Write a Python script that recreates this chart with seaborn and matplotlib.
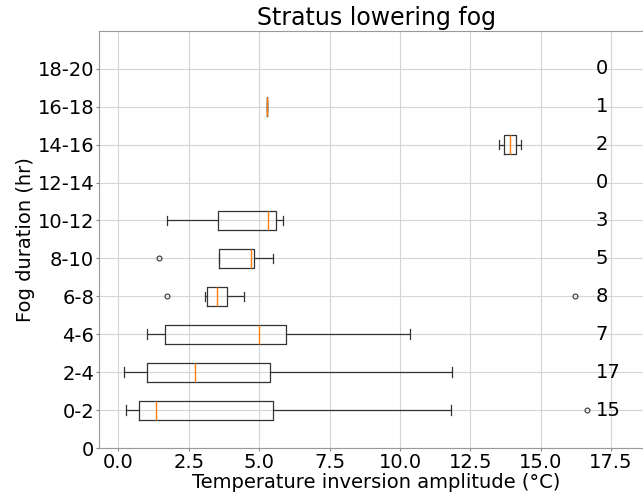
import numpy as np
import pandas as pd
import matplotlib
matplotlib.use("Agg")
import matplotlib.pyplot as plt
import seaborn as sns

# fog duration bins (hr)
bins = ['0-2', '2-4', '4-6', '6-8', '8-10', '10-12', '12-14', '14-16', '16-18', '18-20']

# temperature inversion amplitude (°C) per fog duration bin
amp_0_2 = [0.26, 0.40, 0.55, 0.68, 0.78, 0.95, 1.15, 1.33, 2.10, 3.40, 5.10, 5.88, 8.50, 11.80, 16.66]
amp_2_4 = [0.20, 0.45, 0.70, 0.90, 1.03, 1.40, 1.90, 2.30, 2.72, 3.20, 3.90, 4.70, 5.39, 6.50, 7.80, 9.60, 11.85]
amp_4_6 = [1.00, 1.30, 2.00, 5.00, 5.50, 6.40, 10.36]
amp_6_8 = [1.72, 3.09, 3.15, 3.40, 3.60, 3.633, 4.46, 16.23]
amp_8_10 = [1.43, 3.58, 4.70, 4.82, 5.49]
amp_10_12 = [1.74, 5.33, 5.86]
amp_12_14 = []
amp_14_16 = [13.51, 14.31]
amp_16_18 = [5.28]
amp_18_20 = []

groups = [amp_0_2, amp_2_4, amp_4_6, amp_6_8, amp_8_10,
          amp_10_12, amp_12_14, amp_14_16, amp_16_18, amp_18_20]

rows = []
for b, vals in zip(bins, groups):
    for v in vals:
        rows.append({'bin': b, 'amp': v})
df = pd.DataFrame(rows)
df['bin'] = pd.Categorical(df['bin'], categories=bins)

fig = plt.figure(figsize=(6.43, 4.92), dpi=100)
ax = fig.add_axes([0.154, 0.0894, 0.862, 0.848])

sns.boxplot(data=df, x='amp', y='bin', order=bins, orient='h', ax=ax,
            width=0.5, fill=False, color='black', linewidth=0.9, whis=1.5,
            medianprops={'color': '#ff7f0e', 'linewidth': 1.0, 'zorder': 4},
            boxprops={'color': '#333333'},
            whiskerprops={'color': '#333333'},
            capprops={'color': '#333333'},
            flierprops={'marker': 'o', 'markersize': 3.5, 'markerfacecolor': 'none',
                        'markeredgecolor': '#333333', 'markeredgewidth': 0.8})

# sample counts on the right
for i, vals in enumerate(groups):
    ax.text(16.95, i, str(len(vals)), va='center', ha='left', fontsize=14)

ax.set_ylim(-1, 10)
ax.set_yticks(range(-1, 10))
ax.set_yticklabels(['0'] + bins)
ax.set_xlim(-0.69, 19.0)
ax.set_xticks(np.arange(0, 18, 2.5))
ax.set_xticklabels([f'{t:.1f}' for t in np.arange(0, 18, 2.5)])
ax.tick_params(labelsize=14, color='#888888', length=2, pad=1.5)
ax.grid(True, color='#d5d5d5', linewidth=0.8)
ax.set_axisbelow(True)
for s in ax.spines.values():
    s.set_color('#999999')

ax.set_title('Stratus lowering fog', fontsize=17, pad=4)
ax.set_xlabel('Temperature inversion amplitude (°C)', fontsize=14, labelpad=0.5)
ax.set_ylabel('Fog duration (hr)', fontsize=14, labelpad=2)

fig.savefig('out.png', dpi=100)
